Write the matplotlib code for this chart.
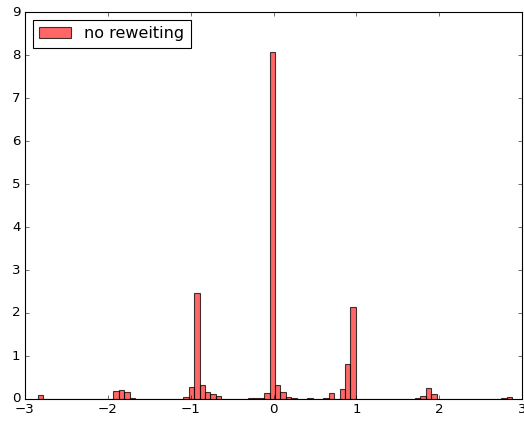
import numpy as np
import matplotlib
matplotlib.use("Agg")
import matplotlib.pyplot as plt

# Histogram definition: 88 equal-width bins between the sample extremes
x_min, x_max = -2.842, 2.878
n_bins = 88

# Normalised bin heights (density), keyed by bin index; all other bins are empty
bin_index = [0, 1, 4, 5,
             14, 15, 16, 17,
             22, 25, 27, 28, 29, 30, 31, 32, 33, 34,
             37, 38, 39, 40, 41, 42, 43, 44, 45, 46, 47,
             50, 53, 54, 55, 56, 57, 58, 59, 61,
             66, 67, 68, 69, 70, 71, 72, 73,
             83, 86, 87]
bin_height = [0.10, 0.01, 0.01, 0.01,
              0.19, 0.22, 0.17, 0.02,
              0.01, 0.01, 0.04, 0.29, 2.46, 0.33, 0.17, 0.11, 0.06, 0.01,
              0.01, 0.01, 0.02, 0.02, 0.03, 0.15, 8.06, 0.33, 0.155, 0.05, 0.02,
              0.03, 0.02, 0.13, 0.01, 0.23, 0.81, 2.13, 0.01, 0.01,
              0.01, 0.01, 0.01, 0.01, 0.03, 0.07, 0.25, 0.12,
              0.01, 0.03, 0.05]
series_label = "no reweiting"

plt.style.use("classic")
plt.rcParams["font.family"] = ["DejaVu Sans"]

edges = np.linspace(x_min, x_max, n_bins + 1)
centers = 0.5 * (edges[:-1] + edges[1:])
heights = np.zeros(n_bins)
heights[bin_index] = bin_height

fig = plt.figure(figsize=(524 / 80, 422 / 80), dpi=80, facecolor="white")
ax = fig.add_axes([25 / 524, 1 - 399 / 422, 497 / 524, 387 / 422])
ax.set_facecolor("white")

ax.hist(centers, bins=edges, weights=heights,
        facecolor=(1.0, 0.0, 0.0, 0.6), edgecolor=(0.0, 0.0, 0.0, 0.75),
        linewidth=1.0, label=series_label)

ax.set_xlim(-3, 3)
ax.set_ylim(0, 9)
ax.set_xticks(np.arange(-3, 4, 1))
ax.set_yticks(np.arange(0, 10, 1))
ax.legend(loc="upper left", fontsize="large", fancybox=False)

fig.savefig("out.png", dpi=80, facecolor="white")
